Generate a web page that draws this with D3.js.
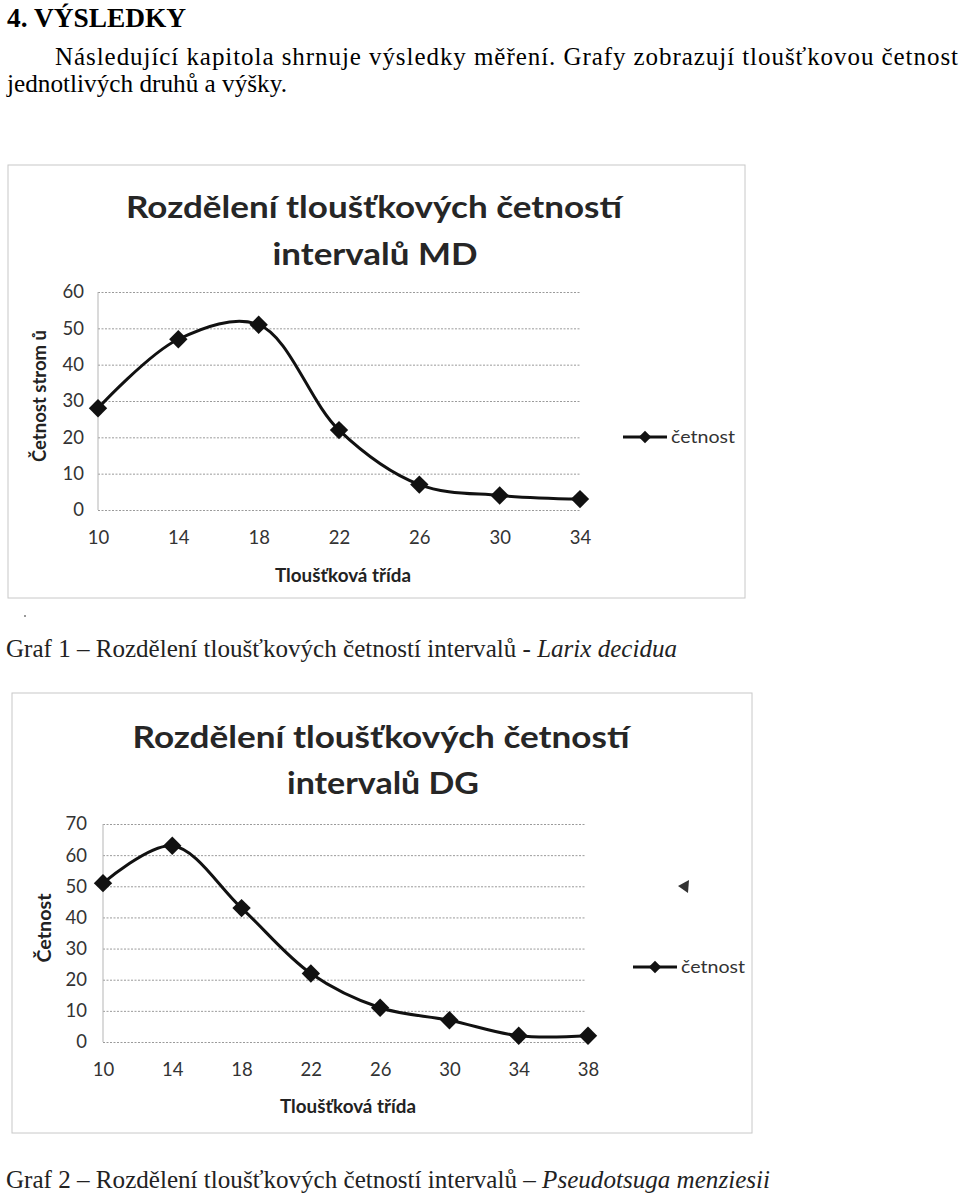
<!DOCTYPE html>
<html>
<head>
<meta charset="utf-8">
<script src="https://cdn.jsdelivr.net/npm/d3@7"></script>
<style>
  body { margin: 0; background: #fff; }
  svg { display: block; }
</style>
</head>
<body>
<div id="page"></div>
<script>
// data
const mdClasses = [10, 14, 18, 22, 26, 30, 34];
const mdCounts = [28, 47, 51, 22, 7, 4, 3];
const mdTicks = [0, 10, 20, 30, 40, 50, 60];

const dgClasses = [10, 14, 18, 22, 26, 30, 34, 38];
const dgCounts = [51, 63, 43, 22, 11, 7, 2, 2];
const dgTicks = [0, 10, 20, 30, 40, 50, 60, 70];

const seriesName = "četnost";
const xTitle = "Tloušťková třída";

const W = 960, H = 1196;
const chartFont = "Lato, 'Open Sans', sans-serif";
const serif = "'Liberation Serif', 'Times New Roman', serif";

var svg = d3.select("#page").append("svg")
    .attr("width", W)
    .attr("height", H);

// ---- document text above and below the charts ----
svg.append("text")
    .attr("x", 7).attr("y", 27)
    .attr("font-family", serif).attr("font-weight", "bold").attr("font-size", 28)
    .attr("textLength", 179).attr("lengthAdjust", "spacingAndGlyphs")
    .text("4. VÝSLEDKY");

svg.append("text")
    .attr("x", 55).attr("y", 65)
    .attr("font-family", serif).attr("font-size", 25)
    .attr("textLength", 903).attr("lengthAdjust", "spacing")
    .text("Následující kapitola shrnuje výsledky měření. Grafy zobrazují tloušťkovou četnost");

svg.append("text")
    .attr("x", 7).attr("y", 92)
    .attr("font-family", serif).attr("font-size", 25)
    .attr("textLength", 280).attr("lengthAdjust", "spacingAndGlyphs")
    .text("jednotlivých druhů a výšky.");

function caption(y, len, plain, italic) {
  var t = svg.append("text")
      .attr("x", 6).attr("y", y)
      .attr("font-family", serif).attr("font-size", 25)
      .attr("fill", "#222")
      .attr("textLength", len).attr("lengthAdjust", "spacingAndGlyphs");
  t.append("tspan").text(plain);
  t.append("tspan").attr("font-style", "italic").text(italic);
}
caption(657, 671, "Graf 1 – Rozdělení tloušťkových četností intervalů - ", "Larix decidua");
caption(1188, 764, "Graf 2 – Rozdělení tloušťkových četností intervalů – ", "Pseudotsuga menziesii");

// stray scan marks
svg.append("circle").attr("cx", 25).attr("cy", 616).attr("r", 1).attr("fill", "#777");
svg.append("path")
    .attr("d", "M678,886 L689,880 L688,893 Z")
    .attr("fill", "#333");

// ---- chart drawing ----
function drawChart(c) {
  var g = svg.append("g");

  g.append("rect")
      .attr("x", c.frame[0]).attr("y", c.frame[1])
      .attr("width", c.frame[2]).attr("height", c.frame[3])
      .attr("fill", "none").attr("stroke", "#c8c8c8").attr("stroke-width", 1);

  // title
  g.append("text")
      .attr("x", c.titleX).attr("y", c.titleY1)
      .attr("text-anchor", "middle")
      .attr("font-family", chartFont).attr("font-weight", "bold").attr("font-size", 31)
      .attr("fill", "#262626")
      .attr("textLength", c.titleLen1).attr("lengthAdjust", "spacingAndGlyphs")
      .text("Rozdělení tloušťkových četností");
  g.append("text")
      .attr("x", c.titleX2).attr("y", c.titleY2)
      .attr("text-anchor", "middle")
      .attr("font-family", chartFont).attr("font-weight", "bold").attr("font-size", 31)
      .attr("fill", "#262626")
      .attr("textLength", c.titleLen2).attr("lengthAdjust", "spacingAndGlyphs")
      .text(c.title2);

  var x = d3.scalePoint()
      .domain(c.classes)
      .range(c.xRange);

  var y = d3.scaleLinear()
      .domain([0, d3.max(c.ticks)])
      .range(c.yRange);

  // gridlines
  g.append("g")
      .attr("transform", "translate(" + c.xRange[0] + ",0)")
      .call(d3.axisLeft(y).tickValues(c.ticks).tickSize(-(c.gridEnd - c.xRange[0])).tickFormat(""))
      .call(function(a) {
        a.select(".domain").remove();
        a.selectAll("line")
            .attr("stroke", "#9a9a9a")
            .attr("stroke-dasharray", "2,1.5")
            .attr("stroke-width", 1);
      });

  // vertical axis line
  g.append("line")
      .attr("x1", c.xRange[0]).attr("x2", c.xRange[0])
      .attr("y1", y(d3.max(c.ticks))).attr("y2", y(0))
      .attr("stroke", "#b5b5b5");

  // y tick labels
  g.append("g")
      .attr("transform", "translate(" + c.yLabelX + ",0)")
      .call(d3.axisLeft(y).tickValues(c.ticks).tickSize(0).tickPadding(0))
      .call(function(a) {
        a.select(".domain").remove();
        a.selectAll("text")
            .attr("font-family", chartFont).attr("font-size", 18.5)
            .attr("fill", "#333");
      });

  // x tick labels
  g.append("g")
      .attr("transform", "translate(0," + c.xLabelY + ")")
      .call(d3.axisBottom(x).tickSize(0).tickPadding(0))
      .call(function(a) {
        a.select(".domain").remove();
        a.selectAll("text")
            .attr("font-family", chartFont).attr("font-size", 18.5)
            .attr("fill", "#333");
      });

  // axis titles
  g.append("text")
      .attr("transform", "translate(" + c.yTitlePos[0] + "," + c.yTitlePos[1] + ") rotate(-90)")
      .attr("text-anchor", "middle")
      .attr("font-family", chartFont).attr("font-weight", "bold").attr("font-size", 18)
      .attr("fill", "#222")
      .attr("textLength", c.yTitleLen).attr("lengthAdjust", "spacingAndGlyphs")
      .text(c.yTitle);

  g.append("text")
      .attr("x", c.xTitlePos[0]).attr("y", c.xTitlePos[1])
      .attr("text-anchor", "middle")
      .attr("font-family", chartFont).attr("font-weight", "bold").attr("font-size", 18)
      .attr("fill", "#222")
      .attr("textLength", 136).attr("lengthAdjust", "spacingAndGlyphs")
      .text(xTitle);

  // smoothed line
  var line = d3.line()
      .x(function(d, i) { return x(c.classes[i]); })
      .y(function(d) { return y(d); })
      .curve(d3.curveCatmullRom.alpha(0.5));

  g.append("path")
      .datum(c.counts)
      .attr("d", line)
      .attr("fill", "none")
      .attr("stroke", "#111")
      .attr("stroke-width", 3);

  var diamond = d3.symbol().type(d3.symbolDiamond2).size(215);

  g.selectAll(".pt")
      .data(c.counts)
      .enter().append("path")
      .attr("class", "pt")
      .attr("d", diamond)
      .attr("transform", function(d, i) { return "translate(" + x(c.classes[i]) + "," + y(d) + ")"; })
      .attr("fill", "#111");

  // legend
  var lg = g.append("g").attr("transform", "translate(" + c.legend[0] + "," + c.legend[1] + ")");
  lg.append("line")
      .attr("x1", 0).attr("x2", 44)
      .attr("stroke", "#111").attr("stroke-width", 3);
  lg.append("path")
      .attr("d", d3.symbol().type(d3.symbolDiamond2).size(100))
      .attr("transform", "translate(22,0)")
      .attr("fill", "#111");
  lg.append("text")
      .attr("x", 48).attr("y", 6)
      .attr("font-family", chartFont).attr("font-size", 17.5)
      .attr("fill", "#333")
      .attr("textLength", 64).attr("lengthAdjust", "spacingAndGlyphs")
      .text(seriesName);
}

drawChart({
  classes: mdClasses, counts: mdCounts, ticks: mdTicks,
  frame: [8, 165, 737, 433],
  titleX: 374, titleY1: 218, titleLen1: 496,
  titleX2: 375, titleY2: 265, titleLen2: 205, title2: "intervalů MD",
  xRange: [98, 580], yRange: [510, 292], gridEnd: 580,
  yLabelX: 84, xLabelY: 531,
  yTitle: "Četnost strom ů", yTitleLen: 132, yTitlePos: [46, 396],
  xTitlePos: [343, 582],
  legend: [623, 437]
});

drawChart({
  classes: dgClasses, counts: dgCounts, ticks: dgTicks,
  frame: [12, 693, 740, 440],
  titleX: 381, titleY1: 748, titleLen1: 497,
  titleX2: 383, titleY2: 794, titleLen2: 192, title2: "intervalů DG",
  xRange: [103, 588], yRange: [1042, 824], gridEnd: 586,
  yLabelX: 87, xLabelY: 1063,
  yTitle: "Četnost", yTitleLen: 69, yTitlePos: [51, 928],
  xTitlePos: [348, 1113],
  legend: [633, 967]
});
</script>
</body>
</html>
